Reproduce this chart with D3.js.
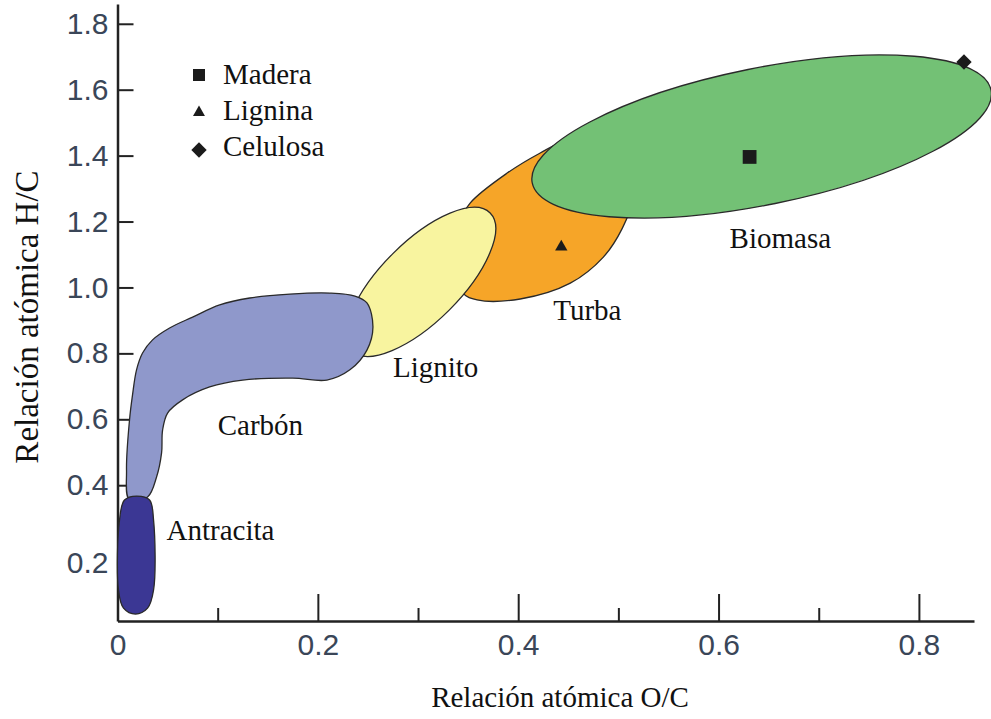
<!DOCTYPE html>
<html>
<head>
<meta charset="utf-8">
<script src="https://cdn.jsdelivr.net/npm/d3@7"></script>
<style>
  body { margin: 0; background: #fff; }
  svg { display: block; }
</style>
</head>
<body>
<div id="chart"></div>
<script>
// axis ticks
const xMajorTicks = [0, 0.2, 0.4, 0.6, 0.8];
const xMinorTicks = [0.1, 0.3, 0.5, 0.7];
const yTicks = [0.2, 0.4, 0.6, 0.8, 1.0, 1.2, 1.4, 1.6, 1.8];

// region outlines, [O/C, H/C]
const antracita = [[0.001, 0.082], [0.002, 0.294], [0.007, 0.355], [0.019, 0.367], [0.032, 0.355],
    [0.036, 0.294], [0.036, 0.082], [0.030, 0.027], [0.018, 0.009], [0.006, 0.027]];
const carbon = [[0.012, 0.355], [0.009, 0.446], [0.012, 0.598], [0.015, 0.674], [0.019, 0.750],
    [0.025, 0.801], [0.035, 0.841], [0.052, 0.877], [0.075, 0.910], [0.102, 0.947], [0.132, 0.968],
    [0.172, 0.980], [0.212, 0.983], [0.237, 0.974], [0.249, 0.953], [0.255, 0.880], [0.249, 0.810],
    [0.232, 0.750], [0.209, 0.719], [0.175, 0.725], [0.125, 0.719], [0.092, 0.698], [0.065, 0.659],
    [0.050, 0.619], [0.045, 0.567], [0.044, 0.498], [0.039, 0.425], [0.030, 0.364]];
const turba = [[0.345, 0.983], [0.337, 1.098], [0.342, 1.199], [0.352, 1.256], [0.389, 1.347],
    [0.422, 1.408], [0.455, 1.456], [0.487, 1.463], [0.512, 1.387], [0.514, 1.265], [0.504, 1.180],
    [0.485, 1.092], [0.452, 1.013], [0.402, 0.965], [0.359, 0.962]];
// ellipses: centre, end of long axis, end of short axis
const lignito = [[0.303, 1.017], [0.372, 1.226], [0.331, 0.931]];
const biomasa = [[0.643, 1.458], [0.872, 1.599], [0.657, 1.255]];

// region names and where their label starts
const regionNames = ["Antracita", "Carbón", "Lignito", "Turba", "Biomasa"];
const regionLabelAt = [[0.049, 0.234], [0.100, 0.552], [0.275, 0.728], [0.435, 0.901], [0.611, 1.120]];

// reference substances
const substances = ["Madera", "Lignina", "Celulosa"];
const substanceOC = [0.631, 0.443, 0.845];
const substanceHC = [1.396, 1.123, 1.684];

window.onload = function () {
    drawChart();
};

function drawChart() {
    let margin = {top: 4, right: 17, bottom: 98, left: 117.5},
        width = 991 - margin.left - margin.right,
        height = 719 - margin.top - margin.bottom;

    let svg = d3.select("#chart")
        .append("svg")
        .attr("width", 991)
        .attr("height", 719)
        .append("g")
        .attr("transform", "translate(" + margin.left + "," + margin.top + ")");

    let x = d3.scaleLinear().domain([0, 0.855]).range([0, width]);
    let y = d3.scaleLinear().domain([-0.012, 1.86]).range([height, 0]);

    const tickFont = "'Liberation Sans', Arial, sans-serif";
    const tickColor = "#3a4658";
    const serif = "'Liberation Serif', 'Times New Roman', serif";

    // minor x ticks
    svg.append("g")
        .attr("transform", "translate(0," + height + ")")
        .call(d3.axisBottom(x).tickValues(xMinorTicks).tickSize(-13).tickFormat(""))
        .call(g => g.select(".domain").remove())
        .call(g => g.selectAll("line").attr("stroke", "#222").attr("stroke-width", 2));

    // major x ticks with labels
    let xAxis = svg.append("g")
        .attr("transform", "translate(0," + height + ")")
        .call(d3.axisBottom(x).tickValues(xMajorTicks).tickSizeInner(-27).tickSizeOuter(0)
            .tickPadding(13).tickFormat(d => d === 0 ? "0" : d3.format(".1f")(d)));
    xAxis.select(".domain").attr("stroke", "#222").attr("stroke-width", 2.5);
    xAxis.selectAll("line").attr("stroke", "#222").attr("stroke-width", 2);
    xAxis.selectAll("text").style("font-family", tickFont).style("font-size", "30px").attr("fill", tickColor);

    // y axis, ticks pointing inwards
    let yAxis = svg.append("g")
        .call(d3.axisLeft(y).tickValues(yTicks).tickSizeInner(-16).tickSizeOuter(0)
            .tickPadding(9).tickFormat(d3.format(".1f")));
    yAxis.select(".domain").attr("stroke", "#222").attr("stroke-width", 2.5);
    yAxis.selectAll("line").attr("stroke", "#222").attr("stroke-width", 2);
    yAxis.selectAll("text").style("font-family", tickFont).style("font-size", "30px").attr("fill", tickColor);
    yAxis.selectAll(".tick").filter(d => d === 0.2).select("text").attr("dy", "0.72em");

    // regions
    let outline = d3.line()
        .x(d => x(d[0]))
        .y(d => y(d[1]))
        .curve(d3.curveCatmullRomClosed.alpha(0.5));

    function drawEllipse(e, fill) {
        let cx = x(e[0][0]), cy = y(e[0][1]);
        let ax = x(e[1][0]) - cx, ay = y(e[1][1]) - cy;
        let bx = x(e[2][0]) - cx, by = y(e[2][1]) - cy;
        svg.append("ellipse")
            .attr("cx", cx)
            .attr("cy", cy)
            .attr("rx", Math.hypot(ax, ay))
            .attr("ry", Math.hypot(bx, by))
            .attr("transform", "rotate(" + (Math.atan2(ay, ax) * 180 / Math.PI) + "," + cx + "," + cy + ")")
            .attr("fill", fill)
            .attr("stroke", "#2a2a2a")
            .attr("stroke-width", 1.3);
    }

    function drawRegion(pts, fill) {
        svg.append("path")
            .attr("d", outline(pts))
            .attr("fill", fill)
            .attr("stroke", "#2a2a2a")
            .attr("stroke-width", 1.3);
    }

    drawRegion(turba, "#f6a528");
    drawEllipse(biomasa, "#73c175");
    drawEllipse(lignito, "#f8f49f");
    drawRegion(carbon, "#8f98cb");
    drawRegion(antracita, "#3b3794");

    // substance markers
    let symbols = [
        d3.symbol().type(d3.symbolSquare).size(190),
        d3.symbol().type(d3.symbolTriangle).size(66),
        d3.symbol().type(d3.symbolSquare).size(118)
    ];
    let rot = [0, 0, 45];
    substances.forEach(function (s, i) {
        svg.append("path")
            .attr("d", symbols[i]())
            .attr("transform", "translate(" + x(substanceOC[i]) + "," + y(substanceHC[i]) + ") rotate(" + rot[i] + ")")
            .attr("fill", "#1b1b1b");
    });

    // region labels
    svg.selectAll("regionLabels")
        .data(regionNames)
        .enter()
        .append("text")
        .attr("x", (d, i) => x(regionLabelAt[i][0]))
        .attr("y", (d, i) => y(regionLabelAt[i][1]))
        .text(d => d)
        .style("font-family", serif)
        .style("font-size", "29px")
        .attr("fill", "#111");

    // legend
    let legend = svg.append("g").attr("transform", "translate(" + (199 - margin.left) + "," + (75 - margin.top) + ")");
    let legendSymbols = [
        d3.symbol().type(d3.symbolSquare).size(144),
        d3.symbol().type(d3.symbolTriangle).size(62),
        d3.symbol().type(d3.symbolSquare).size(118)
    ];
    substances.forEach(function (s, i) {
        legend.append("path")
            .attr("d", legendSymbols[i]())
            .attr("transform", "translate(0," + (i * 37.5) + ") rotate(" + rot[i] + ")")
            .attr("fill", "#1b1b1b");
        legend.append("text")
            .attr("x", 24)
            .attr("y", i * 36 + 8.5)
            .text(s)
            .style("font-family", serif)
            .style("font-size", "29px")
            .attr("fill", "#111");
    });

    // axis titles
    svg.append("text")
        .attr("x", 560 - margin.left)
        .attr("y", 707 - margin.top)
        .attr("text-anchor", "middle")
        .text("Relación atómica O/C")
        .style("font-family", serif)
        .style("font-size", "29px")
        .attr("fill", "#111");

    svg.append("text")
        .attr("transform", "translate(" + (38 - margin.left) + "," + (317 - margin.top) + ") rotate(-90)")
        .attr("text-anchor", "middle")
        .text("Relación atómica H/C")
        .style("font-family", serif)
        .style("font-size", "33px")
        .attr("fill", "#111");
}
</script>
</body>
</html>
